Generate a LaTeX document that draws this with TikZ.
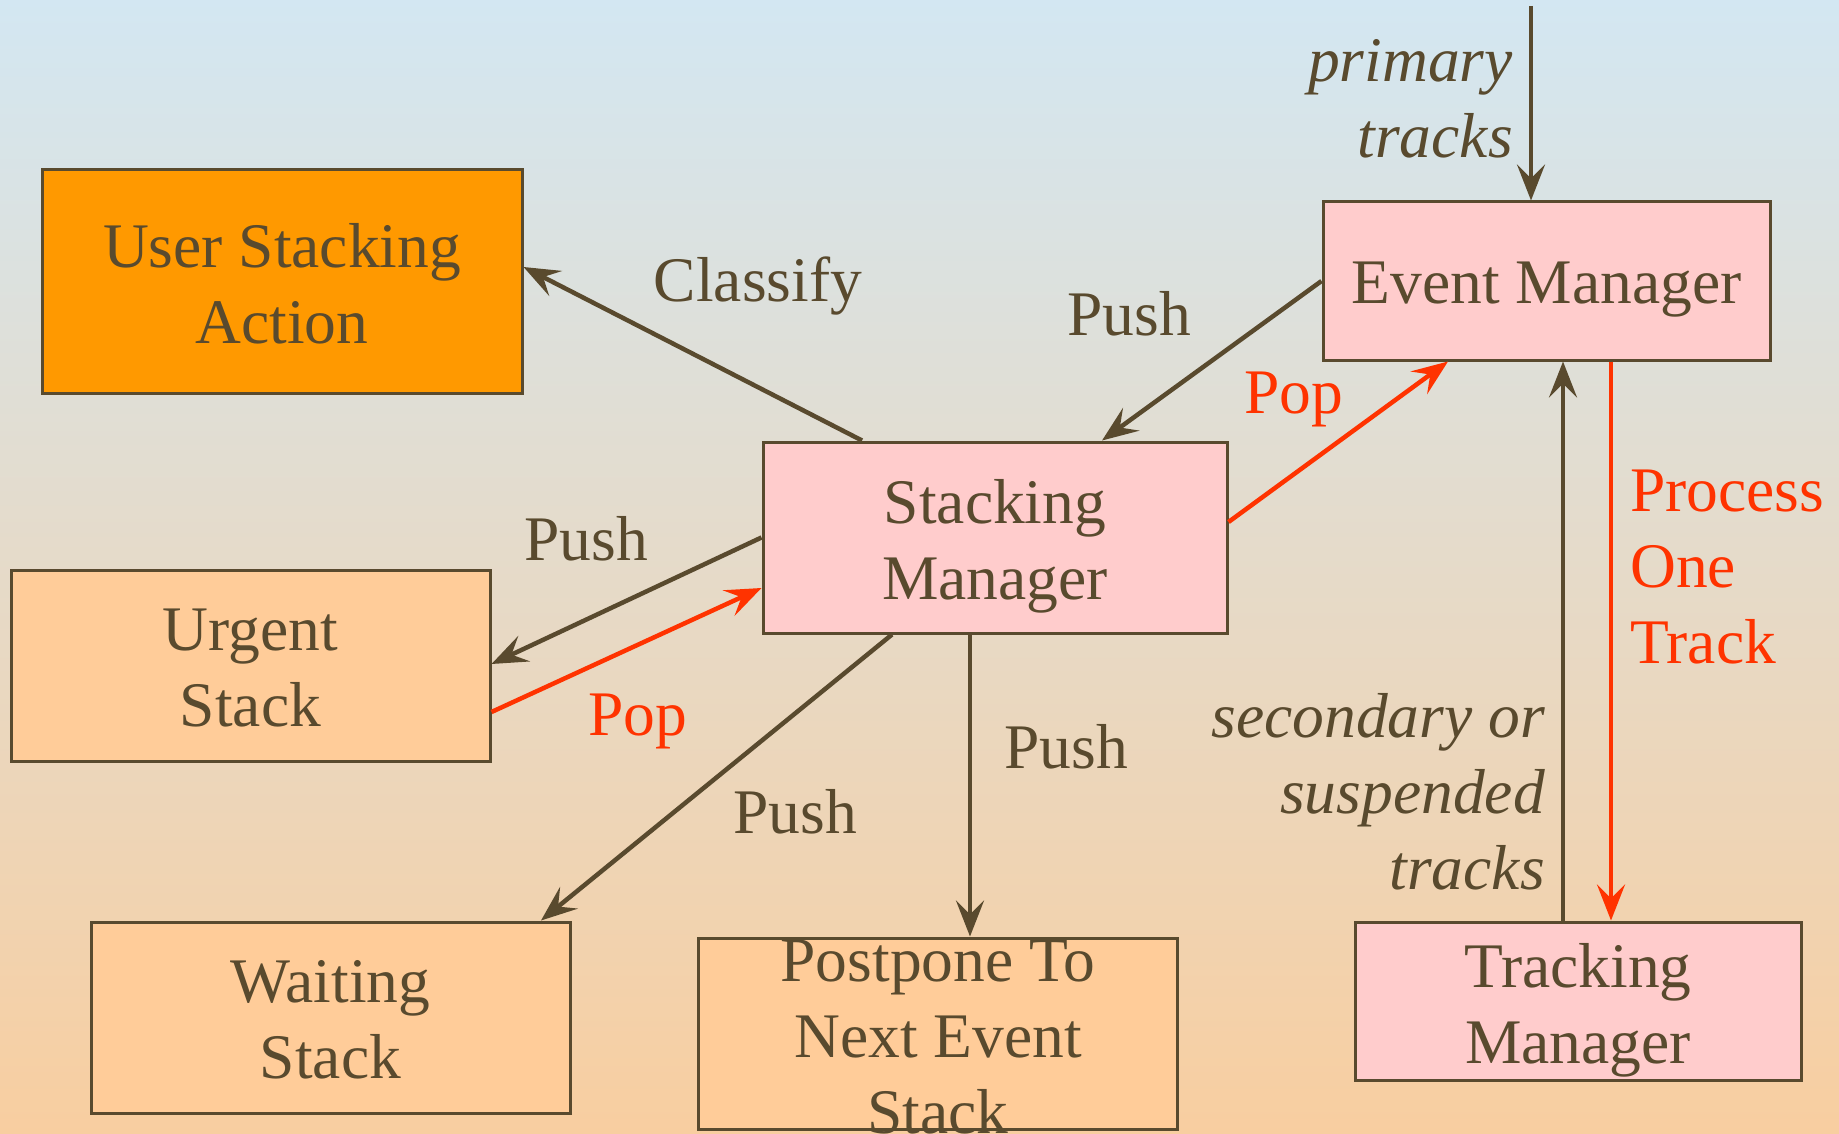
\documentclass[tikz,border=0pt]{standalone}
\usepackage{fontspec}
\setmainfont{Liberation Serif}
\usetikzlibrary{arrows.meta}
\definecolor{ink}{RGB}{89,74,46}
\definecolor{redc}{RGB}{255,51,0}
\definecolor{bgtop}{RGB}{211,231,242}
\definecolor{bgbot}{RGB}{248,206,160}
\definecolor{orangefill}{RGB}{255,153,0}
\definecolor{peachfill}{RGB}{255,204,153}
\definecolor{pinkfill}{RGB}{255,204,204}
\begin{document}
\begin{tikzpicture}[x=1pt,y=-1pt,
  every node/.style={font=\fontsize{63.5}{76}\selectfont, text=ink, inner sep=0pt},
  box/.style={draw=ink, line width=3pt},
  stackbox/.style={box, fill=peachfill, minimum width=479pt, minimum height=191pt},
  mgrbox/.style={box, fill=pinkfill},
  conn/.style={draw=ink, line width=4.5pt, -{Stealth[length=36pt,width=28pt,inset=14pt]}},
  redconn/.style={conn, draw=redc, fill=redc},
  lbl/.style={align=center},
  redlbl/.style={text=redc},
  itlbl/.style={font=\fontsize{63.5}{76}\selectfont\itshape, align=right}
]
\useasboundingbox (0,0) rectangle (1839,1134);
\shade[top color=bgtop, bottom color=bgbot] (0,0) rectangle (1839,1134);

% boxes
\node[box, fill=orangefill, minimum width=480pt, minimum height=223pt] (usa) at (282,281.5) {};
\node[mgrbox, minimum width=447pt, minimum height=158pt] (em) at (1546.5,281) {};
\node[mgrbox, minimum width=464pt, minimum height=191pt] (sm) at (995,537.5) {};
\node[stackbox] (us) at (250.5,666) {};
\node[stackbox] (ws) at (330.5,1017.5) {};
\node[stackbox] (pp) at (938,1033.5) {};
\node[mgrbox, minimum width=446pt, minimum height=158pt] (tm) at (1578,1001) {};

% box texts
\node[lbl] (usatext) at ([yshift=-2pt]usa.center) {User Stacking\\Action};
\node[lbl] (emtext) at ([yshift=-9pt]em.center) {Event Manager};
\node[lbl] (smtext) at ([yshift=-9pt]sm.center) {Stacking\\Manager};
\node[lbl] (ustext) at ([yshift=-2pt]us.center) {Urgent\\Stack};
\node[lbl] (wstext) at ([yshift=-2pt]ws.center) {Waiting\\Stack};
\node[lbl] (pptext) at ([yshift=-4pt]pp.center) {Postpone To\\Next Event\\Stack};
\node[lbl] (tmtext) at ([yshift=-9pt]tm.center) {Tracking\\Manager};

% free end
\coordinate (ptop) at (1531,6);

% connectors
\draw[conn] (ptop) -- ([xshift=-15.5pt]em.north);
\draw[conn] (em.west) -- ([xshift=107pt]sm.north);
\draw[redconn] ([yshift=15.5pt]sm.east) -- ([xshift=-98.5pt]em.south);
\draw[conn] ([xshift=-15pt]tm.north) -- ([xshift=16.5pt]em.south);
\draw[redconn] ([xshift=64.5pt]em.south) -- ([xshift=33pt]tm.north);
\draw[conn] ([xshift=-133pt]sm.north) -- ([yshift=14.5pt]usa.east);
\draw[conn] (sm.west) -- ([yshift=2pt]us.east);
\draw[redconn] ([yshift=-46pt]us.east) -- ([yshift=-50.5pt]sm.west);
\draw[conn] ([xshift=-103pt]sm.south) -- ([xshift=210.5pt]ws.north);
\draw[conn] ([xshift=-25pt]sm.south) -- ([xshift=32pt]pp.north);

% labels
\node[itlbl, anchor=east] (lprim) at (1513,99) {primary\\tracks};
\node[lbl] (lclass) at (758,286) {Classify};
\node[lbl] (lpush1) at (1129,314) {Push};
\node[lbl, redlbl] (lpop1) at (1294,399) {Pop};
\node[lbl] (lpush2) at (586,539) {Push};
\node[lbl, redlbl] (lpop2) at (638,721) {Pop};
\node[lbl] (lpush3) at (795,812) {Push};
\node[lbl] (lpush4) at (1066,747) {Push};
\node[align=left, redlbl, anchor=west] (lproc) at (1630,567) {Process\\One\\Track};
\node[itlbl, anchor=east] (lsec) at (1545,792) {secondary or\\suspended\\tracks};
\end{tikzpicture}
\end{document}
